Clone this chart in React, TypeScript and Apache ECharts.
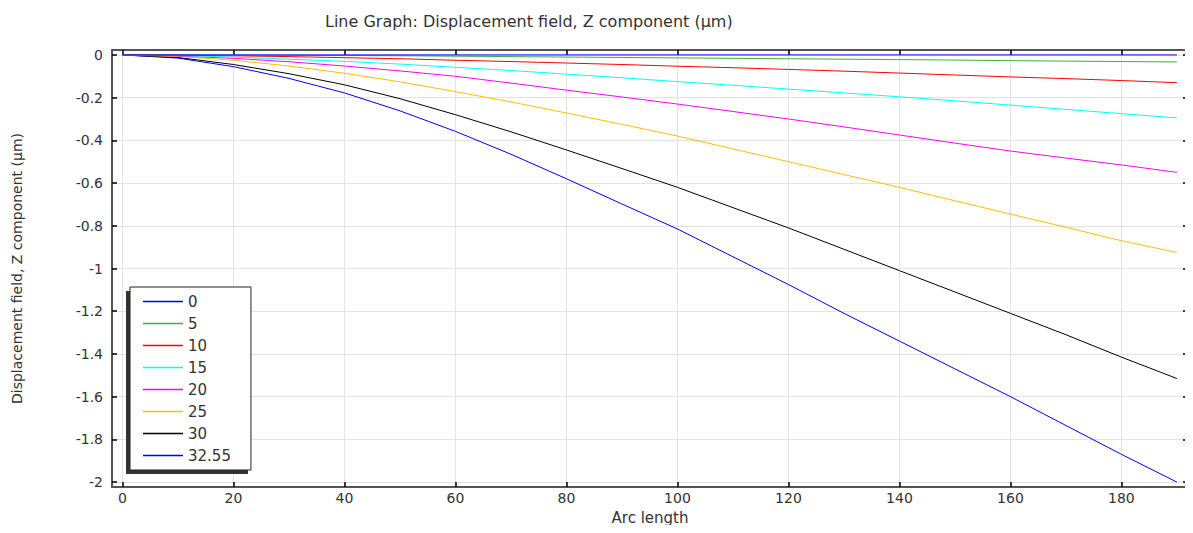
import React, { useEffect, useRef } from "react";
import * as echarts from "echarts";

const arcLength = [0, 10, 20, 30, 40, 50, 60, 70, 80, 90, 100, 110, 120, 130, 140, 150, 160, 170, 180, 190];

const seriesNames = ["0", "5", "10", "15", "20", "25", "30", "32.55"];
const seriesColors = ["#0000ff", "#3cb043", "#ff0000", "#00ffff", "#ff00ff", "#ffbf00", "#000000", "#0000ff"];

const s0 = [0, 0, 0, 0, 0, 0, 0, 0, 0, 0, 0, 0, 0, 0, 0, 0, 0, 0, 0, 0];
const s5 = [0, 0, -0.001, -0.002, -0.003, -0.004, -0.006, -0.008, -0.01, -0.012, -0.014, -0.016, -0.018, -0.02, -0.022, -0.024, -0.027, -0.029, -0.031, -0.033];
const s10 = [0, -0.001, -0.004, -0.008, -0.013, -0.018, -0.025, -0.031, -0.038, -0.045, -0.053, -0.06, -0.068, -0.076, -0.085, -0.094, -0.103, -0.111, -0.12, -0.13];
const s15 = [0, -0.003, -0.01, -0.02, -0.03, -0.043, -0.058, -0.073, -0.09, -0.107, -0.125, -0.142, -0.16, -0.178, -0.196, -0.215, -0.235, -0.255, -0.275, -0.295];
const s20 = [0, -0.005, -0.016, -0.032, -0.052, -0.075, -0.1, -0.132, -0.165, -0.197, -0.23, -0.265, -0.3, -0.337, -0.375, -0.413, -0.45, -0.483, -0.515, -0.55];
const s25 = [0, -0.007, -0.025, -0.052, -0.086, -0.126, -0.172, -0.22, -0.272, -0.325, -0.38, -0.44, -0.5, -0.56, -0.62, -0.683, -0.745, -0.807, -0.87, -0.925];
const s30 = [0, -0.012, -0.045, -0.088, -0.14, -0.205, -0.28, -0.36, -0.445, -0.532, -0.62, -0.715, -0.81, -0.91, -1.01, -1.11, -1.21, -1.31, -1.415, -1.515];
const s3255 = [0, -0.015, -0.055, -0.11, -0.178, -0.262, -0.358, -0.465, -0.58, -0.698, -0.815, -0.945, -1.075, -1.21, -1.34, -1.47, -1.6, -1.735, -1.87, -2.0];

const seriesValues = [s0, s5, s10, s15, s20, s25, s30, s3255];

const xTicks = [0, 20, 40, 60, 80, 100, 120, 140, 160, 180];
const yTicks = [-2, -1.8, -1.6, -1.4, -1.2, -1, -0.8, -0.6, -0.4, -0.2, 0];

const titleText = "Line Graph: Displacement field, Z component (µm)";
const xName = "Arc length";
const yName = "Displacement field, Z component (µm)";

const FONT = "DejaVu Sans";

export default function App() {
  const ref = useRef<HTMLDivElement>(null);
  useEffect(() => {
    if (!ref.current) return;
    const chart = echarts.init(ref.current, null, { renderer: "svg" });
    const axisLine = { show: true, onZero: false, lineStyle: { color: "#555", width: 2 } };
    const tick = (values: number[]) => ({
      show: true,
      inside: true,
      length: 5,
      customValues: values,
      lineStyle: { color: "#000", width: 1.5 },
    });
    const split = { show: true, lineStyle: { color: "#e3e3e3", width: 1 } };
    const fmt = (v: number) => {
      const r = Math.round(v * 10) / 10;
      return String(r);
    };
    chart.setOption({
      animation: false,
      textStyle: { fontFamily: FONT },
      title: {
        text: titleText,
        left: 320,
        top: 8,
        textStyle: { fontSize: 16, fontWeight: "normal", color: "#333", fontFamily: FONT },
      },
      grid: { left: 112, right: 5, top: 50, bottom: 46, containLabel: false },
      legend: {
        orient: "vertical",
        left: 130,
        top: 287,
        padding: [7, 20, 7, 13],
        itemGap: 7,
        itemWidth: 40,
        itemHeight: 1.5,
        icon: "rect",
        backgroundColor: "#fff",
        borderColor: "#222",
        borderWidth: 1,
        z: 5,
        textStyle: { fontSize: 15, color: "#333", fontFamily: FONT },
        data: seriesNames.map((n, i) => ({ name: n, itemStyle: { color: seriesColors[i] } })),
      },
      graphic: [
        {
          type: "rect",
          z: 4,
          shape: { x: 126, y: 291, width: 122, height: 183 },
          style: { fill: "#333" },
        },
      ],
      xAxis: [
        {
          type: "value",
          min: -1.9,
          max: 192,
          position: "bottom",
          name: xName,
          nameLocation: "middle",
          nameGap: 23,
          nameTextStyle: { fontSize: 15, color: "#333", fontFamily: FONT },
          axisLine,
          axisTick: tick(xTicks),
          axisLabel: { customValues: xTicks, fontSize: 14, color: "#333", margin: 4, formatter: fmt },
          splitLine: split,
        },
        {
          type: "value",
          min: -1.9,
          max: 192,
          position: "top",
          axisLine,
          axisTick: tick(xTicks),
          axisLabel: { show: false },
          splitLine: { show: false },
        },
      ],
      yAxis: [
        {
          type: "value",
          min: -2.023,
          max: 0.023,
          position: "left",
          name: yName,
          nameLocation: "middle",
          nameGap: 88,
          nameTextStyle: { fontSize: 14, color: "#333", fontFamily: FONT },
          axisLine,
          axisTick: tick(yTicks),
          axisLabel: { customValues: yTicks, fontSize: 14, color: "#333", margin: 9, formatter: fmt },
          splitLine: split,
        },
        {
          type: "value",
          min: -2.023,
          max: 0.023,
          position: "right",
          axisLine,
          axisTick: tick(yTicks),
          axisLabel: { show: false },
          splitLine: { show: false },
        },
      ],
      series: seriesNames.map((n, i) => ({
        name: n,
        type: "line",
        showSymbol: false,
        symbol: "none",
        data: arcLength.map((x, j) => [x, seriesValues[i][j]]),
        lineStyle: { color: seriesColors[i], width: 1 },
        itemStyle: { color: seriesColors[i] },
        z: 2 + (seriesNames.length - i) * 0.01,
      })),
    });
    return () => chart.dispose();
  }, []);
  return <div ref={ref} style={{ width: 1193, height: 533, margin: -8 }} />;
}
